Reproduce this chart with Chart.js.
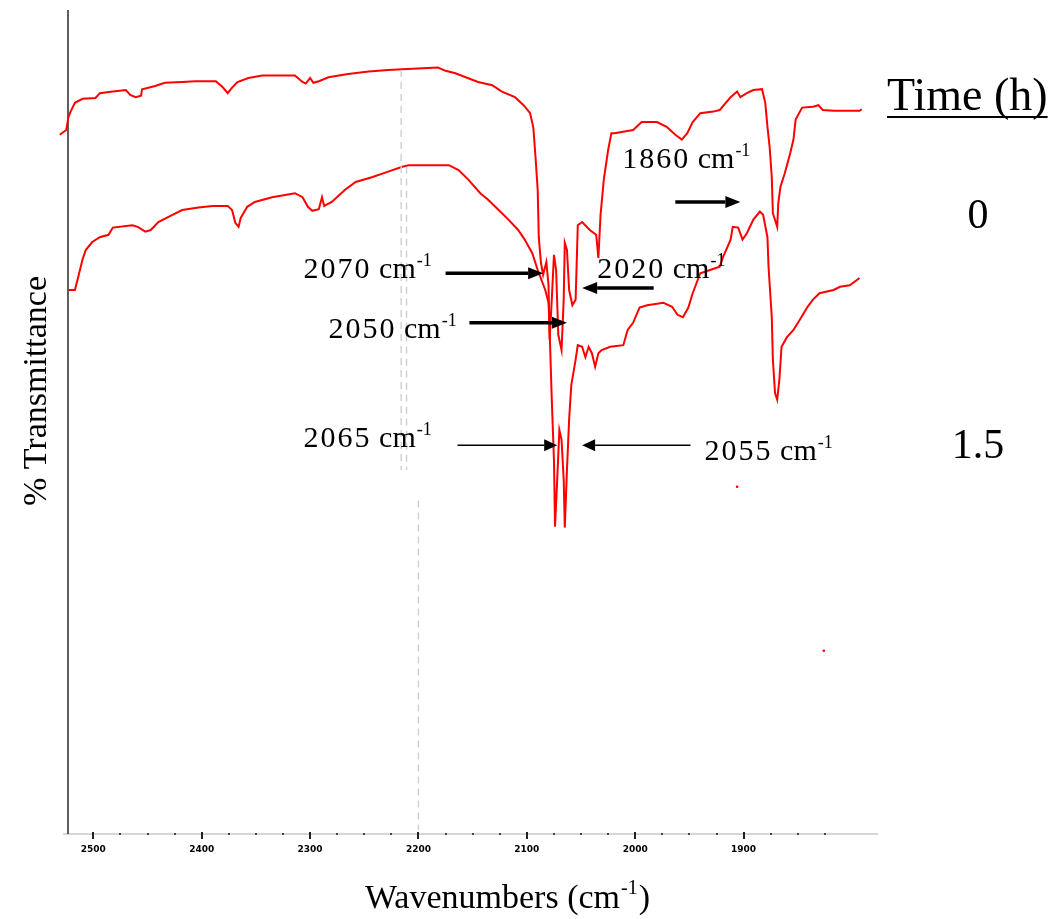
<!DOCTYPE html>
<html>
<head>
<meta charset="utf-8">
<title>FTIR spectra</title>
<script src="https://cdn.jsdelivr.net/npm/chart.js@4.4.1/dist/chart.umd.min.js"></script>
<style>
  html, body { margin: 0; padding: 0; background: #fff; }
  #wrap { position: relative; width: 1058px; height: 919px; }
</style>
</head>
<body>
<div id="wrap"><canvas id="spectra"></canvas></div>
<script>
'use strict';

// Spectrum at 0 h (wavenumber, %T)
const wn0h = [2531, 2525, 2523, 2521, 2517, 2510, 2498, 2494, 2482, 2470, 2466, 2461, 2456, 2455, 2443, 2434, 2418, 2406, 2387, 2381,
  2376, 2372, 2367, 2357, 2344, 2314, 2307, 2304, 2300, 2297, 2292, 2283, 2265, 2246, 2228, 2215, 2182, 2175, 2166, 2145,
  2132, 2123, 2111, 2103, 2097, 2094, 2092, 2090, 2089, 2087, 2085, 2082, 2080, 2079, 2077, 2075, 2073, 2071, 2068, 2066,
  2065, 2063, 2061, 2058, 2055, 2053, 2049, 2042, 2036, 2034, 2032, 2029, 2025, 2022, 2019, 2002, 1994, 1980, 1971, 1963,
  1957, 1952, 1947, 1940, 1928, 1922, 1912, 1906, 1903, 1897, 1891, 1883, 1880, 1878, 1876, 1874, 1873, 1869, 1868, 1866,
  1862, 1857, 1854, 1852, 1846, 1836, 1831, 1827, 1817, 1793, 1791];
const tr0h = [87.4, 88.0, 89.6, 90.3, 91.4, 91.9, 92.0, 92.6, 92.8, 93.0, 92.4, 92.1, 92.3, 93.1, 93.5, 93.9, 94.0, 94.1, 94.1, 93.4,
  92.6, 93.3, 94.0, 94.5, 94.8, 94.8, 94.0, 93.8, 94.5, 93.9, 94.1, 94.6, 95.0, 95.3, 95.5, 95.6, 95.8, 95.4, 95.1, 94.0,
  93.6, 92.8, 92.1, 91.1, 90.1, 88.3, 84.6, 80.5, 74.6, 71.4, 69.9, 71.5, 68.6, 61.8, 66.8, 72.4, 70.5, 62.4, 60.5, 66.8,
  73.9, 73.0, 68.0, 66.1, 66.8, 76.1, 76.5, 75.5, 74.9, 72.0, 77.4, 81.8, 85.5, 87.6, 87.6, 88.0, 89.0, 89.0, 88.4, 87.4,
  86.8, 87.6, 89.0, 90.1, 90.3, 90.5, 92.1, 92.8, 92.1, 92.6, 93.0, 93.1, 91.4, 88.4, 85.9, 82.1, 77.6, 75.9, 78.9, 80.9,
  82.6, 85.1, 86.8, 89.3, 90.8, 90.9, 91.1, 90.5, 90.4, 90.4, 90.6];

// Spectrum at 1.5 h
const wn15h = [2523, 2517, 2514, 2510, 2507, 2501, 2494, 2486, 2482, 2464, 2459, 2452, 2447, 2440, 2427, 2418, 2403, 2390, 2376, 2372,
  2369, 2366, 2364, 2358, 2351, 2335, 2314, 2307, 2302, 2298, 2292, 2289, 2287, 2280, 2268, 2258, 2243, 2228, 2215, 2209,
  2172, 2163, 2154, 2143, 2136, 2126, 2117, 2108, 2102, 2095, 2090, 2083, 2080, 2079, 2077, 2075, 2074, 2072, 2070, 2068,
  2066, 2065, 2063, 2061, 2059, 2055, 2053, 2049, 2046, 2043, 2040, 2037, 2034, 2031, 2023, 2011, 2007, 2002, 1996, 1989,
  1974, 1966, 1961, 1956, 1951, 1947, 1940, 1931, 1922, 1919, 1912, 1910, 1905, 1901, 1897, 1891, 1885, 1882, 1878, 1877,
  1874, 1873, 1871, 1869, 1867, 1865, 1860, 1854, 1848, 1841, 1836, 1830, 1817, 1811, 1802, 1793];
const tr15h = [68.0, 68.0, 69.6, 71.8, 73.0, 74.0, 74.6, 74.9, 75.8, 76.1, 75.9, 75.3, 75.5, 76.5, 77.4, 78.0, 78.3, 78.5, 78.5, 78.0,
  76.4, 75.9, 77.0, 78.4, 79.0, 79.6, 80.1, 79.6, 78.4, 77.9, 78.1, 79.6, 78.5, 79.0, 80.5, 81.5, 82.1, 82.8, 83.4, 83.6,
  83.6, 83.0, 81.8, 80.1, 79.3, 78.0, 76.8, 75.5, 74.3, 72.6, 70.5, 68.0, 66.4, 63.0, 54.3, 46.8, 38.4, 44.3, 50.5, 49.3,
  44.3, 38.3, 45.5, 51.8, 56.1, 59.3, 61.1, 60.9, 59.6, 60.9, 60.1, 58.4, 60.1, 60.5, 60.9, 61.1, 63.0, 63.9, 65.8, 66.1,
  66.4, 65.9, 64.9, 64.6, 65.8, 67.6, 70.1, 70.5, 70.9, 72.1, 74.3, 75.9, 75.8, 74.3, 75.1, 76.8, 77.8, 77.4, 74.6, 70.9,
  64.6, 59.3, 55.1, 54.3, 56.8, 60.9, 62.1, 63.0, 64.3, 65.9, 66.8, 67.6, 68.0, 68.4, 68.6, 69.5];

// Axis labels, one per 100 cm-1 starting at 2500
const tickLabels = ['2500', '2400', '2300', '2200', '2100', '2000', '1900'];

// Time legend on the right
const timeLabels = ['0', '1.5'];
const timeLevels = [75.75, 47.0];

// Faint dashed guide lines (wavenumber, top %T, bottom %T)
const guideWn = [2216, 2211, 2200];
const guideTop = [95.5, 83.4, 41.7];
const guideBottom = [45.5, 45.5, 0.5];

// Two stray red specks
const speckWn = [1906, 1826];
const speckTr = [43.4, 22.9];

// Peak call-outs: label, text anchor (wn, %T), arrow tail/tip wn and %T level
const peakNotes = [
  { label: '1860', textWn: 2012, textTr: 83.25, from: 1963, to: 1903, level: 79.0, heavy: true },
  { label: '2070', textWn: 2306, textTr: 69.5, from: 2175, to: 2085, level: 70.1, heavy: true },
  { label: '2020', textWn: 2035, textTr: 69.5, from: 1983, to: 2049, level: 68.25, heavy: true },
  { label: '2050', textWn: 2283, textTr: 62.0, from: 2153, to: 2063, level: 63.9, heavy: true },
  { label: '2065', textWn: 2306, textTr: 48.4, from: 2164, to: 2072, level: 48.6, heavy: false },
  { label: '2055', textWn: 1936, textTr: 46.75, from: 1949, to: 2049, level: 48.6, heavy: false }
];

const yAxisWn = 2523;
const serif = '"Liberation Serif", "Times New Roman", serif';

const toPoints = (xs, ys) => xs.map((x, i) => ({ x, y: ys[i] }));

// "2070 cm-1" style label with raised -1
const drawWavenumber = (ctx, text, x, y, size, spacing) => {
  ctx.font = `${size}px ${serif}`;
  ctx.letterSpacing = spacing;
  ctx.fillText(text, x, y);
  let w = ctx.measureText(text).width;
  ctx.letterSpacing = '0px';
  ctx.fillText(' cm', x + w, y);
  w += ctx.measureText(' cm').width;
  ctx.font = `${Math.round(size * 0.6)}px ${serif}`;
  ctx.fillText('-1', x + w + 1, y - size * 0.4);
};

const drawArrow = (ctx, x1, x2, y, heavy) => {
  const dir = Math.sign(x2 - x1);
  const head = heavy ? 15 : 13;
  const half = 6;
  ctx.lineWidth = heavy ? 3.5 : 1.6;
  ctx.beginPath();
  ctx.moveTo(x1, y);
  ctx.lineTo(x2 - dir * head, y);
  ctx.stroke();
  ctx.beginPath();
  ctx.moveTo(x2, y);
  ctx.lineTo(x2 - dir * head, y - half);
  ctx.lineTo(x2 - dir * head, y + half);
  ctx.closePath();
  ctx.fill();
};

const spectraDecor = {
  id: 'spectraDecor',
  beforeDatasetsDraw(chart) {
    const { ctx, chartArea: a, scales: { x } } = chart;
    ctx.save();
    // wavenumber axis line
    ctx.strokeStyle = '#d6d6d6';
    ctx.lineWidth = 2;
    ctx.beginPath();
    ctx.moveTo(a.left, a.bottom);
    ctx.lineTo(a.right, a.bottom);
    ctx.stroke();
    // major and minor tick marks
    x.ticks.forEach(t => {
      if (t.value % 25 !== 0 || t.value > 2500 || t.value < 1800) return;
      const px = Math.round(x.getPixelForValue(t.value));
      if (t.value % 100 === 0) {
        ctx.fillStyle = '#222';
        ctx.fillRect(px - 1, a.bottom - 2, 2, 7);
      } else {
        ctx.fillStyle = '#444';
        ctx.fillRect(px - 1, a.bottom - 1, 2, 2);
      }
    });
    // transmittance axis line
    const yx = Math.round(x.getPixelForValue(yAxisWn));
    ctx.strokeStyle = '#5e5e5e';
    ctx.lineWidth = 2;
    ctx.beginPath();
    ctx.moveTo(yx, a.top);
    ctx.lineTo(yx, a.bottom);
    ctx.stroke();
    ctx.restore();
  },
  afterDraw(chart) {
    const { ctx, chartArea: a, scales: { x, y } } = chart;
    ctx.save();
    ctx.fillStyle = '#000';
    ctx.strokeStyle = '#000';
    ctx.textBaseline = 'alphabetic';
    ctx.textAlign = 'left';

    peakNotes.forEach(n => {
      drawWavenumber(ctx, n.label, x.getPixelForValue(n.textWn), y.getPixelForValue(n.textTr), 30, '2px');
      drawArrow(ctx, x.getPixelForValue(n.from), x.getPixelForValue(n.to), y.getPixelForValue(n.level), n.heavy);
    });

    // time legend
    ctx.font = `46px ${serif}`;
    const tx = a.right + 9;
    const ty = 110;
    ctx.fillText('Time (h)', tx, ty);
    const tw = ctx.measureText('Time (h)').width;
    ctx.lineWidth = 2;
    ctx.beginPath();
    ctx.moveTo(tx, ty + 7);
    ctx.lineTo(tx + tw, ty + 7);
    ctx.stroke();
    ctx.font = `42px ${serif}`;
    ctx.textAlign = 'center';
    timeLabels.forEach((t, i) => {
      ctx.fillText(t, a.right + 100, y.getPixelForValue(timeLevels[i]));
    });

    // x title with superscript
    ctx.textAlign = 'left';
    ctx.font = `34px ${serif}`;
    let px = a.left + 302;
    const by = 908;
    ctx.fillText('Wavenumbers (cm', px, by);
    px += ctx.measureText('Wavenumbers (cm').width;
    ctx.font = `20px ${serif}`;
    ctx.fillText('-1', px + 1, by - 14);
    px += ctx.measureText('-1').width + 2;
    ctx.font = `34px ${serif}`;
    ctx.fillText(')', px, by);

    // y title
    ctx.translate(46, 391);
    ctx.rotate(-Math.PI / 2);
    ctx.textAlign = 'center';
    ctx.font = `34px ${serif}`;
    ctx.fillText('% Transmittance', 0, 0);
    ctx.restore();
  }
};

const datasets = [
  {
    label: '0 h',
    data: toPoints(wn0h, tr0h),
    borderColor: '#ff0000',
    borderWidth: 2,
    pointRadius: 0,
    clip: false
  },
  {
    label: '1.5 h',
    data: toPoints(wn15h, tr15h),
    borderColor: '#ff0000',
    borderWidth: 2,
    pointRadius: 0,
    clip: false
  },
  {
    label: 'specks',
    data: toPoints(speckWn, speckTr),
    showLine: false,
    pointRadius: 1.3,
    pointBorderWidth: 0,
    pointBackgroundColor: '#ff0000'
  }
];

guideWn.forEach((wn, i) => {
  datasets.unshift({
    label: 'guide ' + i,
    data: [{ x: wn, y: guideTop[i] }, { x: wn, y: guideBottom[i] }],
    borderColor: '#cfcfcf',
    borderWidth: 1.4,
    borderDash: [7, 5],
    pointRadius: 0
  });
});

const ctx = document.querySelector('#spectra').getContext('2d');

const spectraChart = new Chart(ctx, {
  type: 'line',
  data: { datasets },
  options: {
    responsive: true,
    maintainAspectRatio: false,
    animation: false,
    layout: { padding: { left: 63, right: 180, top: 10, bottom: 0 } },
    scales: {
      x: {
        type: 'linear',
        reverse: true,
        min: 1776,
        max: 2528,
        afterFit: (scale) => { scale.height = 85; },
        grid: { display: false, drawTicks: false },
        border: { display: false },
        ticks: {
          stepSize: 25,
          autoSkip: false,
          maxRotation: 0,
          padding: 10,
          color: '#000',
          font: { family: '"DejaVu Sans"', size: 9, weight: 'bold' },
          callback: (value) => {
            if (value % 100 !== 0) return '';
            return tickLabels[(2500 - value) / 100] || '';
          }
        }
      },
      y: {
        type: 'linear',
        display: false,
        min: 0,
        max: 103
      }
    },
    plugins: {
      legend: { display: false },
      tooltip: { enabled: false }
    }
  },
  plugins: [spectraDecor]
});
</script>
</body>
</html>
